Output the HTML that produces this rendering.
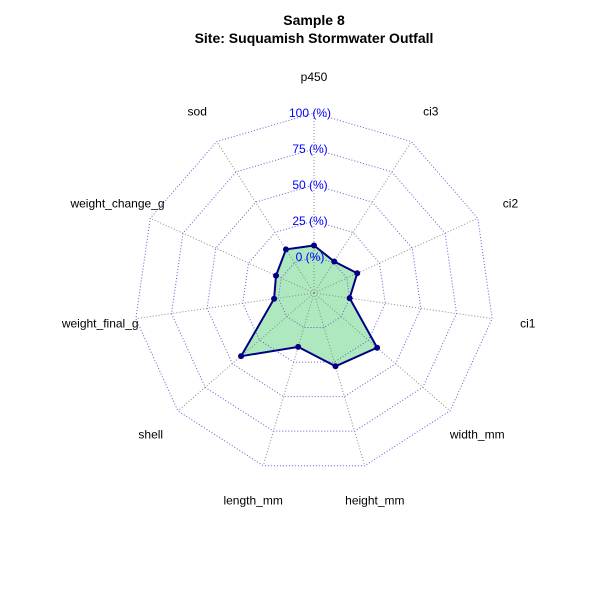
<!DOCTYPE html>
<html><head><meta charset="utf-8"><style>
html,body{margin:0;padding:0;background:#fff;}
svg text{font-family:"Liberation Sans",Arial,sans-serif;}
</style></head><body>
<svg id="chart" width="600" height="600" viewBox="0 0 600 600" xmlns="http://www.w3.org/2000/svg">
<text x="314" y="25" text-anchor="middle" font-size="14" font-weight="bold">Sample 8</text>
<text x="314" y="43" text-anchor="middle" font-size="14" font-weight="bold">Site: Suquamish Stormwater Outfall</text>
<g id="seriesfill"></g><g id="grid"></g><g id="axes"></g><g id="series"></g><g id="labels"></g>
</svg>
<script>
const categories = ["p450","ci3","ci2","ci1","width_mm","height_mm","length_mm","shell","weight_final_g","weight_change_g","sod"];
const values = [8, 1, 8, 0, 33, 28, 14, 42, 3, 4, 11];
const tickLabels = ["0 (%)","25 (%)","50 (%)","75 (%)","100 (%)"];
const tickValues = [0, 25, 50, 75, 100];

const NS = "http://www.w3.org/2000/svg";
const cx = 314, cy = 293, R = 180, seg = 4;
const n = categories.length;
function rOf(v){ return R * (1 + seg * v / 100) / (seg + 1); }
function ang(i){ return -Math.PI/2 + i * 2*Math.PI/n; }
function pt(i, r){ return [cx + r*Math.cos(ang(i)), cy + r*Math.sin(ang(i))]; }
function mk(tag, attrs, parent){ const e=document.createElementNS(NS,tag); for(const k in attrs) e.setAttribute(k,attrs[k]); parent.appendChild(e); return e; }

const labels = document.getElementById('labels');
const grid = document.getElementById('grid');
tickValues.forEach((t, k) => {
  const pts = categories.map((c,i)=>pt(i, rOf(t)).join(',')).join(' ');
  const ring = mk('polygon',{points:pts,fill:'none',stroke:'#6A5ACD','stroke-width':1,'stroke-dasharray':'1,2'},grid);
  
  
  const lbl = mk('text',{x:cx-4,y:cy-rOf(t)+4,'text-anchor':'middle','font-size':12,fill:'#0000FF'},labels);
  lbl.textContent = tickLabels[k];
  
  
});
const axes = document.getElementById('axes');
categories.forEach((c,i)=>{
  const [x1,y1]=pt(i,0), [x2,y2]=pt(i,R);
  const l = mk('line',{x1:x1,y1:y1,x2:x2,y2:y2,stroke:'#888','stroke-width':1,'stroke-dasharray':'1,2'},axes);
  
  
  const [lx,ly]=pt(i,R*1.2);
  const t = mk('text',{x:lx,y:ly+4,'text-anchor':'middle','font-size':12,fill:'#000'},labels);
  t.textContent = c;
  
  
});
const pts = values.map((v,i)=>pt(i,rOf(v)).join(',')).join(' ');
const area = mk('polygon',{points:pts,fill:'#AEE8BE',stroke:'none'},document.getElementById('seriesfill'));


const series = document.getElementById('series');
const poly = mk('polygon',{points:pts,fill:'none',stroke:'#000080','stroke-width':2},series);


values.forEach((v,i)=>{
  const [x,y]=pt(i,rOf(v));
  const c = mk('circle',{cx:x,cy:y,r:3,fill:'#000080'},series);
  
  
});
</script>
</body></html>
